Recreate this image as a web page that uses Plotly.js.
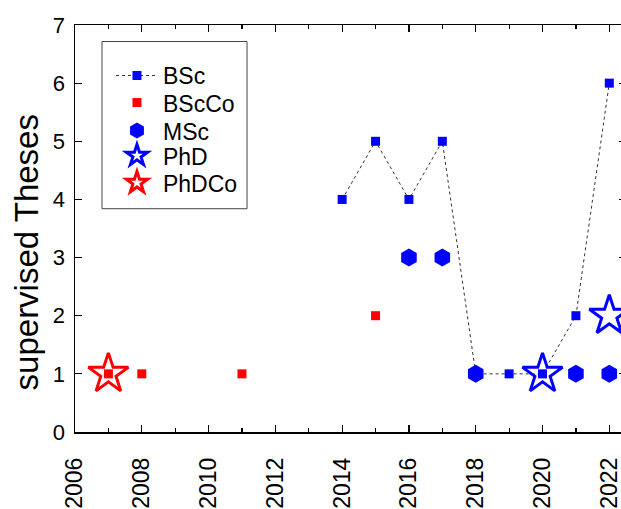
<!DOCTYPE html>
<html>
<head>
<meta charset="utf-8">
<script src="https://cdn.plot.ly/plotly-3.0.1.min.js"></script>
<style>
html, body { margin: 0; padding: 0; overflow: hidden; background: #fff; }
#chart { width: 640px; height: 509px; }
</style>
</head>
<body>
<div id="chart"></div>
<script>
// Data
var bscYears = [2014, 2015, 2016, 2017, 2018, 2019, 2020, 2021, 2022];
var bscValues = [4, 5, 4, 5, 1, 1, 1, 2, 6];
var bscCoYears = [2007, 2008, 2011, 2015];
var bscCoValues = [1, 1, 1, 2];
var mscYears = [2016, 2017, 2018, 2021, 2022];
var mscValues = [3, 3, 1, 1, 1];
var phdYears = [2020, 2022];
var phdValues = [1, 2];
var phdCoYears = [2007];
var phdCoValues = [1];
var xTickVals = [2006, 2008, 2010, 2012, 2014, 2016, 2018, 2020, 2022];
var yTickVals = [0, 1, 2, 3, 4, 5, 6, 7];
var yTitle = 'supervised Theses';

var FONT = 'Liberation Sans, Arial, sans-serif';
var BLUE = 'rgb(0,0,255)';
var RED = 'rgb(255,0,0)';

var traces = [
  {
    name: 'BSc', x: bscYears, y: bscValues, type: 'scatter', mode: 'lines+markers',
    line: { color: '#333', width: 1, dash: '3px,3px' },
    marker: { symbol: 'square', size: 9, color: BLUE },
    legend: 'legend'
  },
  {
    name: 'BScCo', x: bscCoYears, y: bscCoValues, type: 'scatter', mode: 'markers',
    marker: { symbol: 'square', size: 9, color: RED },
    legend: 'legend2'
  },
  {
    name: 'MSc', x: mscYears, y: mscValues, type: 'scatter', mode: 'markers',
    marker: { symbol: 'hexagon', size: 18, color: BLUE },
    legend: 'legend3'
  },
  {
    name: 'PhD', x: phdYears, y: phdValues, type: 'scatter', mode: 'markers',
    marker: { symbol: 'star-open', size: 30, color: BLUE, line: { width: 3, color: BLUE } },
    legend: 'legend4'
  },
  {
    name: 'PhDCo', x: phdCoYears, y: phdCoValues, type: 'scatter', mode: 'markers',
    marker: { symbol: 'star-open', size: 30, color: RED, line: { width: 3, color: RED } },
    legend: 'legend5'
  }
];

function legendAt(yPaper) {
  return {
    x: 0.0653, y: yPaper, xanchor: 'left', yanchor: 'middle',
    bgcolor: 'rgba(255,255,255,0)', borderwidth: 0,
    font: { family: FONT, size: 23, color: '#000' },
    itemwidth: 42
  };
}

var layout = {
  width: 640, height: 509,
  margin: { l: 75, r: 14, t: 25, b: 77 },
  paper_bgcolor: '#fff', plot_bgcolor: '#fff',
  font: { family: FONT, color: '#000' },
  showlegend: true,
  legend: legendAt(0.8758),
  legend2: legendAt(0.8093),
  legend3: legendAt(0.7405),
  legend4: legendAt(0.6790),
  legend5: legendAt(0.6125),
  shapes: [
    {
      type: 'rect', xref: 'paper', yref: 'paper',
      x0: 0.049, x1: 0.3122, y0: 0.5486, y1: 0.9594,
      line: { color: '#444', width: 1 }, fillcolor: 'rgba(0,0,0,0)', layer: 'below'
    }
  ],
  xaxis: {
    range: [2006, 2022.5],
    tickmode: 'array', tickvals: xTickVals,
    tickangle: -90,
    tickfont: { family: FONT, size: 23, color: '#000' },
    ticks: 'inside', ticklen: 7, tickwidth: 1.2, tickcolor: '#000',
    ticklabelstandoff: 15,
    minor: { dtick: 1, tick0: 2006, ticks: 'inside', ticklen: 4, tickwidth: 1.2, tickcolor: '#000', showgrid: false },
    showline: true, linecolor: '#000', linewidth: 1.5, mirror: 'ticks',
    showgrid: false, zeroline: false
  },
  yaxis: {
    range: [0, 7],
    tickmode: 'array', tickvals: yTickVals,
    tickfont: { family: FONT, size: 22, color: '#000' },
    ticks: 'inside', ticklen: 7, tickwidth: 1.2, tickcolor: '#000',
    ticklabelstandoff: 4,
    showline: true, linecolor: '#000', linewidth: 1.5, mirror: 'ticks',
    showgrid: false, zeroline: false
  },
  annotations: [
    {
      text: yTitle, xref: 'paper', yref: 'paper',
      x: -0.088, y: 0.44, xanchor: 'center', yanchor: 'middle',
      textangle: -90, showarrow: false,
      font: { family: FONT, size: 33, color: '#000' }
    }
  ]
};

Plotly.newPlot('chart', traces, layout, { displayModeBar: false, staticPlot: true });
</script>
</body>
</html>
